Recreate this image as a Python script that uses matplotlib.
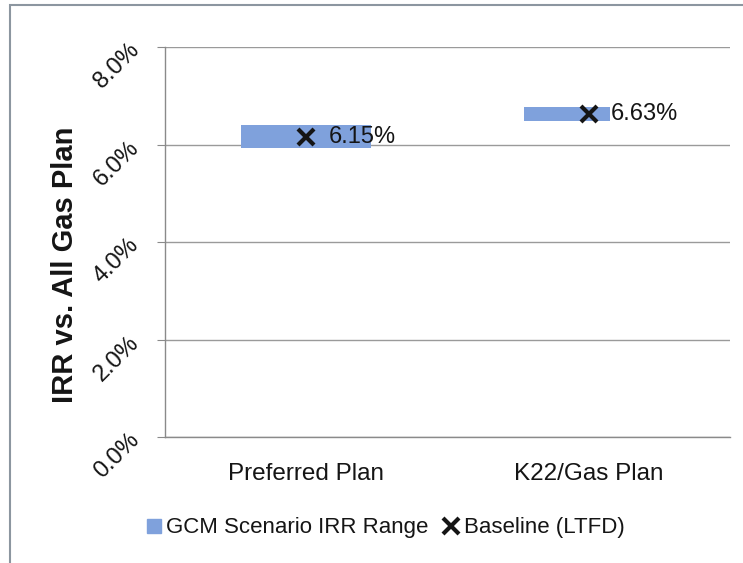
import matplotlib
matplotlib.use("Agg")
import matplotlib.pyplot as plt
from matplotlib.patches import Rectangle
from matplotlib.lines import Line2D
from matplotlib.ticker import FuncFormatter

# Data
plans = ["Preferred Plan", "K22/Gas Plan"]
irr_low = [5.93, 6.49]
irr_high = [6.40, 6.77]
baseline = [6.15, 6.63]
yticks = [0, 2, 4, 6, 8]

plt.rcParams["font.family"] = ["Liberation Sans", "DejaVu Sans"]

BAR_BLUE = "#7FA1DC"
GRID = "#9a9a9a"
INK = "#151515"

fig = plt.figure(figsize=(7.43, 5.63), dpi=100)
ax = fig.add_axes([165 / 743, 1 - 437 / 563, 565 / 743, 390 / 563])

x = list(range(len(plans)))
heights = [h - l for l, h in zip(irr_low, irr_high)]
ax.bar(x, heights, bottom=irr_low, width=0.46, color=BAR_BLUE, zorder=2)
ax.plot(x, baseline, linestyle="none", marker="x", markersize=12,
        markeredgewidth=3, color=INK, zorder=3)

# value labels next to the baseline markers
label_bg = [None, "white"]
for xi, v, bg in zip(x, baseline, label_bg):
    kw = {}
    if bg:
        kw["bbox"] = dict(facecolor=bg, edgecolor="none", pad=0.5)
    ax.annotate(f"{v:.2f}%", (xi, v), xytext=(16, 0), textcoords="offset points",
                ha="left", va="center", fontsize=17, color=INK, zorder=4, **kw)

ax.set_xlim(-0.5, len(plans) - 0.5)
ax.set_ylim(0, 8)
ax.set_yticks(yticks)
ax.yaxis.set_major_formatter(FuncFormatter(lambda v, p: f"{v:.1f}%"))
ax.set_xticks(x)
ax.set_xticklabels(plans, fontsize=17.5, color=INK)

ax.grid(axis="y", color=GRID, linewidth=1, zorder=0)
for s in ["top", "right"]:
    ax.spines[s].set_visible(False)
for s in ["left", "bottom"]:
    ax.spines[s].set_color("#8a8a8a")
    ax.spines[s].set_linewidth(1)

ax.tick_params(axis="x", length=0, pad=19)
ax.tick_params(axis="y", length=6, color="#8a8a8a", pad=15, labelsize=17,
               labelcolor=INK)
for lab in ax.get_yticklabels():
    lab.set_rotation(45)
    lab.set_rotation_mode("anchor")
    lab.set_ha("right")
    lab.set_va("center")

ax.set_ylabel("IRR vs. All Gas Plan", fontsize=21, fontweight="bold", color=INK)
ax.yaxis.set_label_coords(-0.152, 0.441)

handles = [
    Line2D([], [], linestyle="none", marker="s", markersize=10,
           color=BAR_BLUE, label="GCM Scenario IRR Range"),
    Line2D([], [], linestyle="none", marker="x", markersize=11,
           markeredgewidth=3, color=INK, label="Baseline (LTFD)"),
]
leg = fig.legend(handles=handles, loc="center", bbox_to_anchor=(384 / 743, 1 - 528 / 563),
                 ncol=2, frameon=False, fontsize=16, handletextpad=0.1,
                 columnspacing=0.6, handlelength=0.9)
for t in leg.get_texts():
    t.set_color(INK)

# outer chart border
fig.patches.append(Rectangle((10 / 743, -0.1), 1.1, 1.1 - 5 / 563,
                             transform=fig.transFigure, fill=False,
                             edgecolor="#8c96a0", linewidth=1.5))

fig.savefig("out.png", dpi=100)
